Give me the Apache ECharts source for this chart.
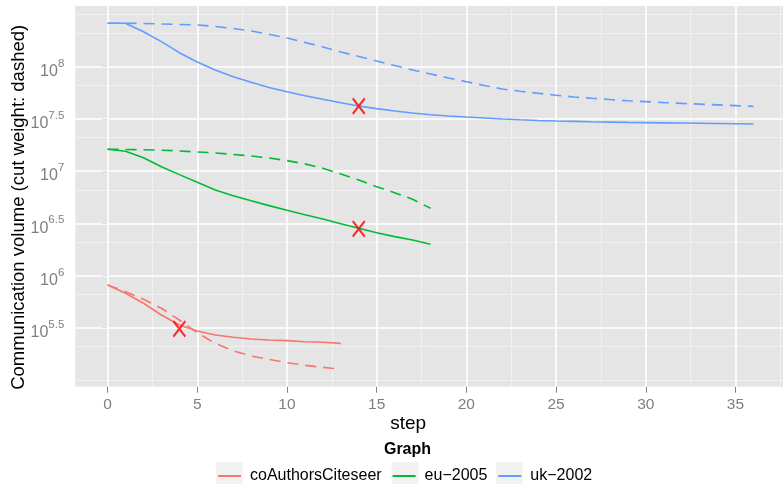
<!DOCTYPE html>
<html>
<head>
<meta charset="utf-8">
<script src="https://cdn.jsdelivr.net/npm/echarts@6/dist/echarts.min.js"></script>
<style>html,body{margin:0;padding:0;background:#fff;}#c{width:783px;height:484px;}</style>
</head>
<body>
<div id="c"></div>
<script>
// ---- data (y values are log10 of communication volume) ----
var graphNames = ['coAuthorsCiteseer', 'eu\u22122005', 'uk\u22122002'];
var graphColors = ['#F8766D', '#00BA38', '#619CFF'];

var coSteps = [0,1,2,3,4,5,6,7,8,9,10,11,12,13];
var coVolume = [5.909,5.83,5.734,5.622,5.526,5.468,5.43,5.408,5.392,5.382,5.376,5.366,5.36,5.35];
var coCut = [5.909,5.845,5.772,5.686,5.574,5.452,5.35,5.28,5.229,5.197,5.165,5.14,5.12,5.104];

var euSteps = [0,1,2,3,4,5,6,7,8,9,10,11,12,13,14,15,16,17,18];
var euVolume = [7.209,7.19,7.128,7.042,6.966,6.893,6.819,6.764,6.716,6.669,6.624,6.582,6.541,6.496,6.452,6.41,6.372,6.34,6.299];
var euCut = [7.209,7.207,7.204,7.2,7.193,7.183,7.174,7.159,7.145,7.126,7.1,7.069,7.027,6.972,6.915,6.851,6.793,6.73,6.644];

var ukSteps = [0,1,2,3,4,5,6,7,8,9,10,11,12,13,14,15,16,17,18,19,20,21,22,23,24,25,26,27,28,29,30,31,32,33,34,35,36];
var ukVolume = [8.416,8.416,8.335,8.24,8.134,8.045,7.968,7.904,7.85,7.80,7.76,7.722,7.688,7.655,7.624,7.598,7.576,7.557,7.54,7.528,7.518,7.509,7.499,7.491,7.485,7.48,7.476,7.472,7.469,7.466,7.464,7.462,7.46,7.458,7.456,7.454,7.451];
var ukCut = [8.416,8.416,8.414,8.409,8.404,8.40,8.385,8.366,8.342,8.31,8.275,8.232,8.189,8.141,8.098,8.054,8.011,7.968,7.93,7.892,7.856,7.82,7.786,7.764,7.745,7.726,7.71,7.697,7.685,7.674,7.665,7.656,7.648,7.641,7.634,7.627,7.62];

var crossSteps = [14, 14, 4];
var crossValues = [7.622, 6.446, 5.489];

// ---- ticks ----
var xMajor = [0,5,10,15,20,25,30,35];
var xMinor = [2.5,7.5,12.5,17.5,22.5,27.5,32.5,37.5];
var yLabelExps = [5.5,6,6.5,7,7.5,8];
var yMajor = [5.5,6,6.5,7,7.5,8];
var yMinor = [5.0,5.318,5.818,6.318,6.818,7.318,7.818,8.318,8.5];

function pairs(xs, ys){ var out=[]; for (var i=0;i<xs.length;i++) out.push([xs[i], ys[i]]); return out; }

var FONT = 'Liberation Sans, Arial, Helvetica, sans-serif';
var chart = echarts.init(document.getElementById('c'), null, {renderer:'canvas'});

var gridMarks = [];
yMinor.forEach(function(v){ gridMarks.push({yAxis:v, lineStyle:{color:'#F2F2F2', width:0.9, type:'solid'}}); });
xMinor.forEach(function(v){ gridMarks.push({xAxis:v, lineStyle:{color:'#F2F2F2', width:0.9, type:'solid'}}); });
yMajor.forEach(function(v){ gridMarks.push({yAxis:v, lineStyle:{color:'#FFFFFF', width:1.6, type:'solid'}}); });
xMajor.forEach(function(v){ gridMarks.push({xAxis:v, lineStyle:{color:'#FFFFFF', width:1.6, type:'solid'}}); });

function lineSeries(name, color, xs, ys, dashed){
  return {
    type:'line', name:name, data:pairs(xs, ys), showSymbol:false, symbol:'none', z:3,
    lineStyle:{color:color, width:1.6, type: dashed ? [11,7] : 'solid'},
    itemStyle:{color:color}, silent:true
  };
}

var option = {
  animation:false,
  textStyle:{fontFamily:FONT},
  grid:{left:75.3, right:0, top:6, bottom:97.3, show:true, backgroundColor:'#E5E5E5', borderWidth:0,
    containLabel:false, outerBoundsMode:'none'},
  xAxis:{
    type:'value', min:-1.8, max:37.65,
    name:'step', nameLocation:'middle', nameGap:28, nameMoveOverlap:false,
    nameTextStyle:{color:'#000', fontSize:19, fontFamily:FONT, padding:[0,42,0,0]},
    axisLine:{show:false},
    axisTick:{show:true, customValues:xMajor, length:6, lineStyle:{color:'#7F7F7F', width:1}},
    axisLabel:{customValues:xMajor, color:'#7F7F7F', fontSize:15.5, margin:10, fontFamily:FONT},
    splitLine:{show:false}, minorSplitLine:{show:false}
  },
  yAxis:{
    type:'value', min:4.935, max:8.581,
    name:'Communication volume (cut weight: dashed)', nameLocation:'middle', nameGap:47, nameMoveOverlap:false,
    nameTextStyle:{color:'#000', fontSize:18.5, fontFamily:FONT, padding:[0,22,0,0]},
    axisLine:{show:false},
    axisTick:{show:true, customValues:yMajor, length:6, lineStyle:{color:'#7F7F7F', width:1}},
    axisLabel:{
      customValues:yLabelExps, margin:11, padding:[4,0,0,0],
      formatter:function(v){ return '{b|10}{s|' + (Math.round(v*10)/10) + '}'; },
      rich:{
        b:{color:'#7F7F7F', fontSize:16, lineHeight:22, verticalAlign:'bottom', fontFamily:FONT},
        s:{color:'#7F7F7F', fontSize:11.5, lineHeight:13, verticalAlign:'top', fontFamily:FONT}
      }
    },
    splitLine:{show:false}, minorSplitLine:{show:false}
  },
  title:{text:'Graph', left:407.5, top:442, textAlign:'center', padding:0,
    textStyle:{fontSize:16, fontWeight:'bold', color:'#000', fontFamily:FONT}},
  legend:{
    data:graphNames, left:218, top:468, orient:'horizontal', padding:0,
    itemWidth:23, itemHeight:2, itemGap:11, icon:'rect',
    textStyle:{fontSize:16, color:'#000', fontFamily:FONT, padding:[0,0,0,4]},
    selectedMode:false
  },
  graphic:[
    {type:'rect', shape:{x:216, y:462, width:26.7, height:24}, style:{fill:'#F2F2F2'}, z:-1, silent:true},
    {type:'rect', shape:{x:391.7, y:462, width:26.7, height:24}, style:{fill:'#F2F2F2'}, z:-1, silent:true},
    {type:'rect', shape:{x:496, y:462, width:26.7, height:24}, style:{fill:'#F2F2F2'}, z:-1, silent:true}
  ],
  series:[
    {type:'line', name:'_grid', data:[[0,6]], symbol:'none', lineStyle:{width:0}, silent:true, z:1,
      markLine:{silent:true, symbol:['none','none'], label:{show:false}, z:1, animation:false, data:gridMarks}},
    lineSeries(graphNames[0], graphColors[0], coSteps, coVolume, false),
    lineSeries(graphNames[0], graphColors[0], coSteps, coCut, true),
    lineSeries(graphNames[1], graphColors[1], euSteps, euVolume, false),
    lineSeries(graphNames[1], graphColors[1], euSteps, euCut, true),
    lineSeries(graphNames[2], graphColors[2], ukSteps, ukVolume, false),
    lineSeries(graphNames[2], graphColors[2], ukSteps, ukCut, true),
    {type:'scatter', name:'_cross', data:pairs(crossSteps, crossValues), z:4, silent:true,
      symbol:'path://M0,0L12,16M12,0L0,16', symbolSize:[12,15.5],
      itemStyle:{color:'rgba(0,0,0,0)', borderColor:'#FF0000', borderWidth:2.2}}
  ]
};
chart.setOption(option);
</script>
</body>
</html>
